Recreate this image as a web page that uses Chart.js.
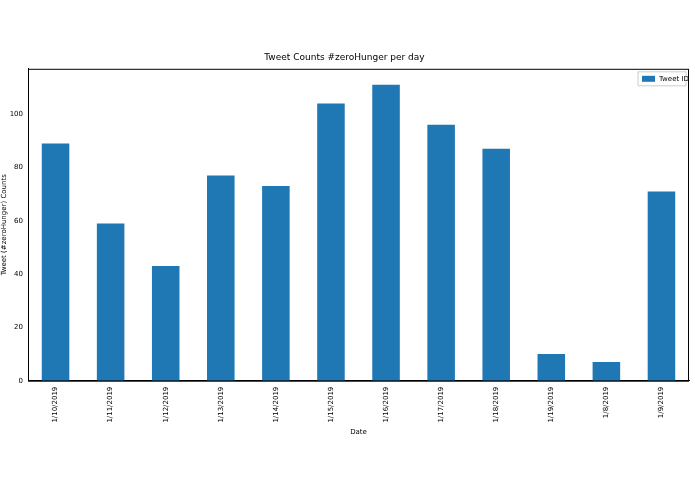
<!DOCTYPE html>
<html><head><script src="https://cdn.jsdelivr.net/npm/chart.js@4"></script>
<style>html,body{margin:0;padding:0;background:#fff}#w{width:695px;height:494px}</style></head>
<body><div id="w"><canvas id="c"></canvas></div>
<script>
const categories=["1/10/2019","1/11/2019","1/12/2019","1/13/2019","1/14/2019","1/15/2019","1/16/2019","1/17/2019","1/18/2019","1/19/2019","1/8/2019","1/9/2019"];
const tweetCounts=[89,59,43,77,73,104,111,96,87,10,7,71];
const yTicks=[0,20,40,60,80,100];
const F="'DejaVu Sans'";
const boxLegend={id:'boxLegend',afterDraw(ch){const a=ch.chartArea,c=ch.ctx;c.save();
c.strokeStyle='#ccc';c.lineWidth=1;c.fillStyle='#fff';c.beginPath();c.rect(a.right-51,a.top+3,48,14);c.fill();c.stroke();
c.fillStyle='#1f77b4';c.fillRect(a.right-47,a.top+7,13,6);
c.fillStyle='#000';c.font="7px "+F;c.textBaseline='middle';c.fillText(ch.data.datasets[0].label,a.right-30,a.top+10.5);c.restore();}};
const frame={id:'frame',afterDraw(ch){const a=ch.chartArea,c=ch.ctx;c.save();c.strokeStyle='#000';c.lineWidth=1;c.strokeRect(a.left+0.5,a.top+0.5,a.width-1,a.height);c.restore();}};
new Chart(document.getElementById('c'),{type:'bar',
data:{labels:categories,datasets:[{label:'Tweet ID',data:tweetCounts,backgroundColor:'#1f77b4',categoryPercentage:0.5,barPercentage:1}]},
options:{responsive:true,maintainAspectRatio:false,animation:false,
layout:{padding:{top:52,right:6,left:0,bottom:54}},
plugins:{legend:{display:false},tooltip:{enabled:false},
title:{display:true,text:'Tweet Counts #zeroHunger per day',color:'#000',font:{family:F,size:9,weight:'normal'},padding:{top:0,bottom:6}}},
scales:{
x:{grid:{display:false,drawTicks:true,tickLength:3,color:'#000'},border:{color:'#000'},
ticks:{color:'#000',font:{family:F,size:7},maxRotation:90,minRotation:90,autoSkip:false},
title:{display:true,text:'Date',color:'#000',font:{family:F,size:7},padding:{top:2}}},
y:{min:0,max:117,afterBuildTicks(s){s.ticks=yTicks.map(v=>({value:v}));},
afterFit(s){s.width=28;},
grid:{display:false,drawTicks:true,tickLength:3},border:{color:'#000'},
ticks:{color:'#000',font:{family:F,size:7},padding:2},
title:{display:true,text:'Tweet (#zeroHunger) Counts',color:'#000',font:{family:F,size:7},padding:0}}}},
plugins:[boxLegend,frame]});
</script></body></html>
